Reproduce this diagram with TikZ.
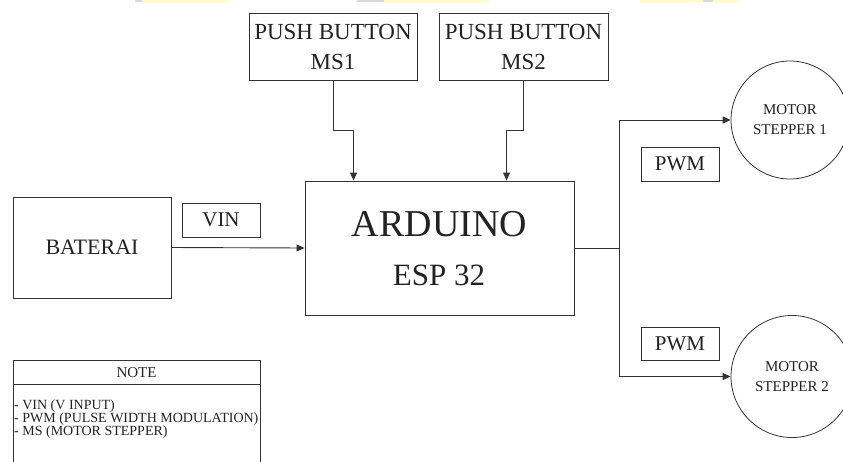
\documentclass[tikz,border=0pt]{standalone}
\usepackage{fontspec}
\setmainfont{Liberation Serif}
\usetikzlibrary{arrows.meta,calc}
\definecolor{linec}{HTML}{333333}
\definecolor{txt}{HTML}{222222}
\definecolor{yel}{HTML}{FFFFC4}
\definecolor{gry}{HTML}{DADADA}
\begin{document}
\begin{tikzpicture}[x=1pt,y=-1pt,
  box/.style={draw=linec, line width=0.9pt, text=txt, inner sep=0pt, align=center},
  lbl/.style={text=txt, inner sep=0pt},
  arr/.style={draw=linec, line width=0.9pt, -{Triangle[length=8pt,width=7pt]}},
  ln/.style={draw=linec, line width=0.9pt},
  motor/.style={circle, draw=linec, line width=0.8pt, minimum size=118pt, inner sep=0pt, align=center, text=txt, font=\fontsize{15}{20}\selectfont}]
\useasboundingbox (0,0) rectangle (843,461);
\clip (0,0) rectangle (843,461);
% faint highlight remnants at the top edge
\fill[gry] (135,0) rectangle (142,2);
\fill[yel] (142,0) rectangle (230,2);
\fill[gry] (357,0) rectangle (384,2);
\fill[yel] (384,0) rectangle (489,2);
\fill[yel] (640,0) rectangle (703,2);
\fill[gry] (703,0) rectangle (713,2);
\fill[yel] (713,0) rectangle (738,2);

% push buttons
\node[box, minimum width=168pt, minimum height=67pt, font=\fontsize{23}{30}\selectfont] (ms1) at (333,46.5) {PUSH BUTTON\\MS1};
\node[box, minimum width=169pt, minimum height=67pt, font=\fontsize{23}{30}\selectfont] (ms2) at (523.5,46.5) {PUSH BUTTON\\MS2};

% arduino
\node[box, minimum width=269pt, minimum height=134pt] (ard) at (439.5,248) {};
\node[lbl, anchor=base, font=\fontsize{38}{40}\selectfont] (ardt) at (439.5,236) {ARDUINO};
\node[lbl, anchor=base, font=\fontsize{31}{34}\selectfont] (espt) at (439,285) {ESP 32};

% battery
\node[box, minimum width=158pt, minimum height=101pt, font=\fontsize{22}{26}\selectfont] (bat) at (92,247.5) {BATERAI};
\node[box, minimum width=78pt, minimum height=34pt, font=\fontsize{21}{24}\selectfont] (vin) at (221,220) {VIN};

% PWM labels
\node[box, minimum width=78pt, minimum height=34pt, font=\fontsize{21}{24}\selectfont] (pwm1) at (680,164) {PWM};
\node[box, minimum width=78pt, minimum height=33pt, font=\fontsize{21}{24}\selectfont] (pwm2) at (680,343.5) {PWM};

% motors
\node[motor] (m1) at (790,120) {MOTOR\\STEPPER 1};
\node[motor, minimum size=122pt] (m2) at (792,376.5) {MOTOR\\STEPPER 2};

% connectors
\draw[arr] (ms1.south) -- ++(0,50) -| ($(ard.north west)+(49,0)$);
\draw[arr] (ms2.south) -- ++(0,50) -| ($(ard.north west)+(202,0)$);
\draw[arr] (bat.east) -- (ard.west);
\draw[ln] (ard.east) -- ++(45,0) coordinate (j);
\draw[arr] (j) |- (m1.west);
\draw[arr] (j) |- (m2.west);

% note
\draw[ln] (13,360) rectangle (260,480);
\draw[ln] (13,384) -- (260,384);
\node[lbl, font=\fontsize{15}{18}\selectfont] (note) at (136.5,372.5) {NOTE};
\node[lbl, anchor=base west, font=\fontsize{14}{13}\selectfont] (n1) at (14,409) {- VIN (V INPUT)};
\node[lbl, anchor=base west, font=\fontsize{14}{13}\selectfont] (n2) at (14,422) {- PWM (PULSE WIDTH MODULATION)};
\node[lbl, anchor=base west, font=\fontsize{14}{13}\selectfont] (n3) at (14,435) {- MS (MOTOR STEPPER)};
\end{tikzpicture}
\end{document}
